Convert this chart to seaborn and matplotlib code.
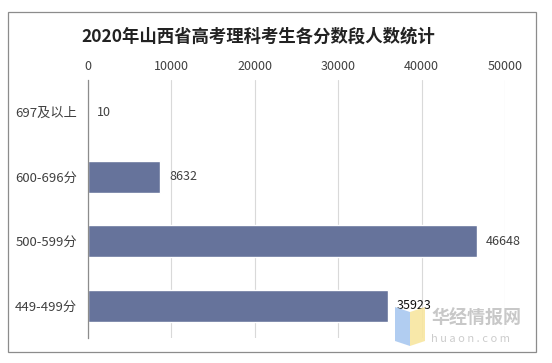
import matplotlib
matplotlib.use("Agg")
import matplotlib.pyplot as plt
from matplotlib.patches import Rectangle, Polygon
import seaborn as sns
import pandas as pd

categories = ["697及以上", "600-696分", "500-599分", "449-499分"]
values = [10, 8632, 46648, 35923]
xticks = [0, 10000, 20000, 30000, 40000, 50000]
title = "2020年山西省高考理科考生各分数段人数统计"

sns.set_theme(style="white")
plt.rcParams['font.family'] = ['Noto Sans CJK SC', 'DejaVu Sans']

df = pd.DataFrame({"cat": categories, "val": values})

fig = plt.figure(figsize=(5.52, 3.63), dpi=100)
ax = fig.add_axes([88/552, 1-338/363, (505-88)/552, (338-80)/363])

sns.barplot(data=df, y="cat", x="val", orient="h", color="#66739b",
            width=0.5, saturation=1, ax=ax)

ax.set_xlim(0, 50000)
ax.set_ylim(3.5, -0.5)
ax.set_xticks(xticks)
ax.set_xticklabels([str(t) for t in xticks])
ax.xaxis.tick_top()
ax.tick_params(axis='x', length=0, labelsize=9, colors="#404040", pad=5)
ax.tick_params(axis='y', length=0, labelsize=9.5, colors="#404040", pad=8)
ax.set_xlabel("")
ax.set_ylabel("")
ax.grid(axis='x', color="#d9d9d9", linewidth=0.8)
ax.set_axisbelow(True)
for s in ["top", "right", "bottom"]:
    ax.spines[s].set_visible(False)
ax.spines["left"].set_color("#8c8c8c")
ax.spines["left"].set_linewidth(0.9)

for i, v in enumerate(values):
    ax.annotate(str(v), xy=(v, i), xytext=(6.5, 0), textcoords="offset points",
                va="center", ha="left", fontsize=9,
                color="#111111" if i == 3 else "#404040")

fig.text(258/552, 1-37/363, title, ha="center", va="center",
         fontsize=12.5, fontweight="bold", color="#222222")

# outer frame
fig.patches.append(Rectangle((8/552, 1-352/363), (536-8)/552, (352-12)/363,
                             transform=fig.transFigure, fill=False,
                             edgecolor="#8c8c8c", linewidth=0.9))

# watermark
fig.patches.append(Polygon([(395/552, 1-307/363), (410/552, 1-312/363),
                            (410/552, 1-346/363), (395/552, 1-341/363)],
                           closed=True, transform=fig.transFigure,
                           facecolor="#a9c8f0", edgecolor="none", alpha=0.9))
fig.patches.append(Polygon([(410/552, 1-312/363), (425/552, 1-307/363),
                            (425/552, 1-341/363), (410/552, 1-346/363)],
                           closed=True, transform=fig.transFigure,
                           facecolor="#f8e6a0", edgecolor="none", alpha=0.9))
fig.text(431/552, 1-318/363, "华经情报网", ha="left", va="center",
         fontsize=13, color="#c8c8c8", fontweight="bold")
fig.text(431/552, 1-339/363, "h u a o n . c o m", ha="left", va="center",
         fontsize=8, color="#cccccc")

fig.savefig("out.png", dpi=100)
